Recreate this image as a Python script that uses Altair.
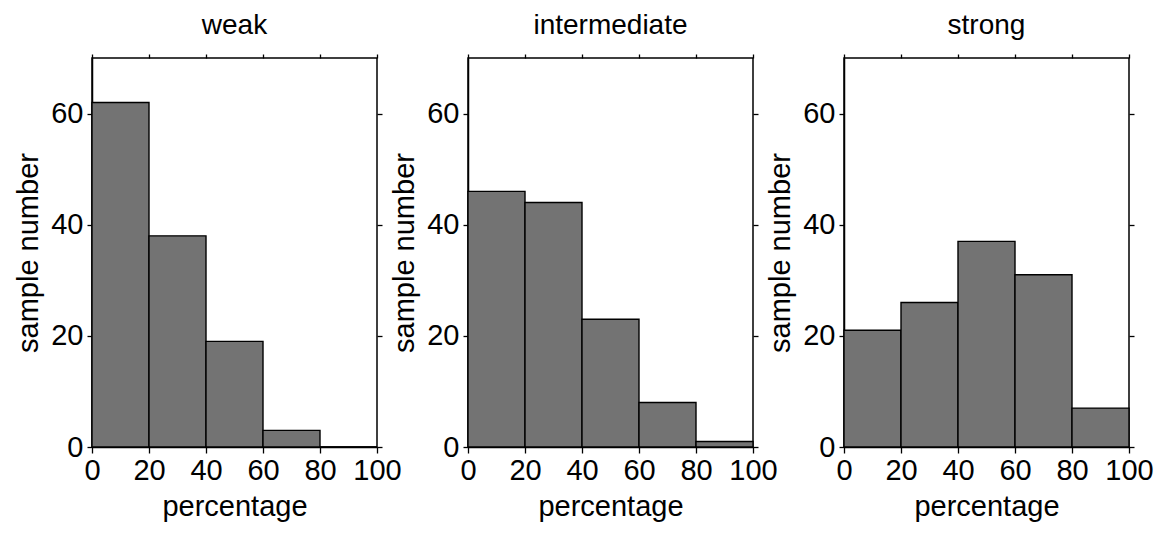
import altair as alt
import pandas as pd

# ---- data ----
bin_start = [0, 20, 40, 60, 80]
bin_end = [20, 40, 60, 80, 100]
panels = ["weak", "intermediate", "strong"]
weak = [62, 38, 19, 3, 0]
intermediate = [46, 44, 23, 8, 1]
strong = [21, 26, 37, 31, 7]
x_ticks = [0, 20, 40, 60, 80, 100]
y_ticks = [0, 20, 40, 60]

counts = {"weak": weak, "intermediate": intermediate, "strong": strong}

FONT = "Liberation Sans"
FILL = "#737373"
W, H = 285, 389


def panel(name):
    df = pd.DataFrame({"start": bin_start, "end": bin_end, "count": counts[name]})
    xs = alt.Scale(domain=[0, 100], nice=False)
    ys = alt.Scale(domain=[0, 70], nice=False)
    bars = alt.Chart(df).mark_bar(
        fill=FILL, stroke="black", strokeWidth=1.4, opacity=1
    ).encode(
        x=alt.X("start:Q", scale=xs, title="percentage",
                axis=alt.Axis(values=x_ticks, orient="bottom", tickSize=6,
                              labelPadding=3, titlePadding=7, grid=False)),
        x2="end:Q",
        y=alt.Y("count:Q", scale=ys, title="sample number",
                axis=alt.Axis(values=y_ticks, orient="left", tickSize=5,
                              labelPadding=4, titlePadding=2,
                              minExtent=47, maxExtent=47, grid=False)),
        y2=alt.datum(0),
    )
    frame = alt.Chart(df).mark_point(opacity=0).encode(
        x=alt.X("start:Q", scale=xs,
                axis=alt.Axis(values=x_ticks, orient="top", labels=False,
                              title=None, tickSize=4, domain=False, grid=False)),
        y=alt.Y("count:Q", scale=ys,
                axis=alt.Axis(values=y_ticks, orient="right", labels=False,
                              title=None, tickSize=5, domain=False, grid=False)),
    )
    return alt.layer(bars, frame).resolve_axis(
        x="independent", y="independent"
    ).properties(
        width=W, height=H,
        title=alt.TitleParams(name, fontSize=28, font=FONT, fontWeight="normal",
                              color="black", offset=13, anchor="middle"),
    )


chart = alt.hconcat(
    *[panel(p) for p in panels], spacing=91, bounds="flush"
).properties(
    padding={"left": 5, "top": 3, "right": 5, "bottom": 5},
    background="white",
).configure_view(
    stroke="black", strokeWidth=1.5
).configure_axis(
    labelFont=FONT, titleFont=FONT, labelFontSize=29, titleFontSize=29,
    labelColor="black", titleColor="black", tickColor="black",
    domainColor="black", tickWidth=1.3, domainWidth=1.5,
    titleFontWeight="normal", labelFlush=False, labelOverlap=False,
)

chart.save("out.html", embed_options={"renderer": "svg", "actions": False})
